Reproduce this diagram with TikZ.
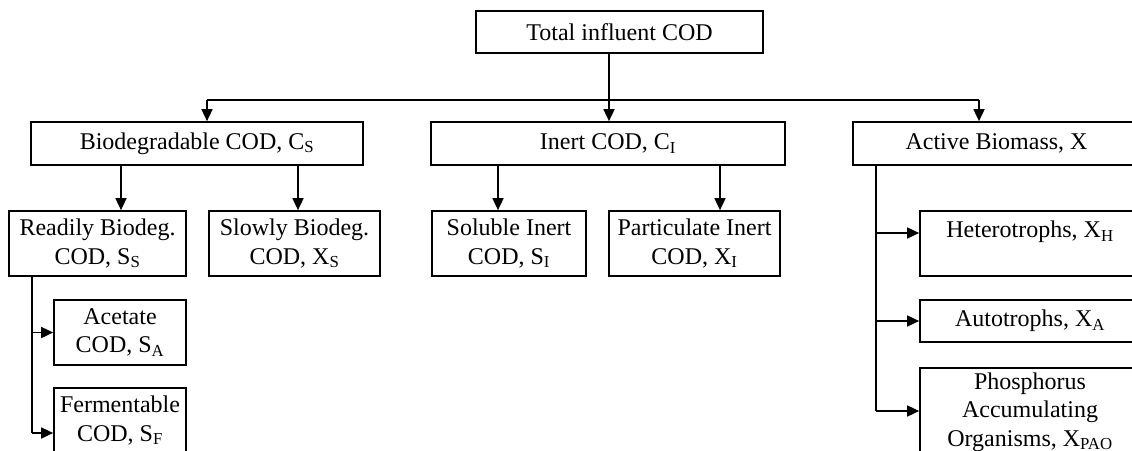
\documentclass[tikz,border=0pt]{standalone}
\usepackage{fontspec}
\setmainfont{Liberation Serif}
\usetikzlibrary{arrows.meta}
\newcommand\sbs[1]{\textsubscript{#1}}
\begin{document}
\begin{tikzpicture}[x=1pt,y=-1pt,
  box/.style={draw, line width=1.7pt, inner sep=0pt, align=center,
    font=\fontsize{24}{28.5}\selectfont},
  arr/.style={line width=1.7pt, -{Triangle[length=12pt,width=11pt]}},
  ln/.style={line width=1.7pt}]
\useasboundingbox (0,0) rectangle (1132,450);
\clip (0,0) rectangle (1132,450);
% level 0
\node[box, minimum width=287pt, minimum height=42pt] (top) at (619.5,32) {Total influent COD};
% level 1
\node[box, minimum width=332pt, minimum height=43pt] (bio) at (197,143.5) {Biodegradable COD, C\sbs{S}};
\node[box, minimum width=354pt, minimum height=43pt] (inert) at (608,143.5) {Inert COD, C\sbs{I}};
\node[box, minimum width=287pt, minimum height=43pt] (active) at (996.5,143.5) {Active Biomass, X};
% level 2
\node[box, minimum width=177pt, minimum height=65pt] (readily) at (97.5,243.5) {Readily Biodeg.\\COD, S\sbs{S}};
\node[box, minimum width=171pt, minimum height=65pt] (slowly) at (294.5,243.5) {Slowly Biodeg.\\COD, X\sbs{S}};
\node[box, minimum width=154pt, minimum height=65pt] (soluble) at (509,243.5) {Soluble Inert\\COD, S\sbs{I}};
\node[box, minimum width=171pt, minimum height=65pt] (partic) at (694.5,243.5) {Particulate Inert\\COD, X\sbs{I}};
\node[box, minimum width=220pt, minimum height=65pt] (hetero) at (1030,243.5) {Heterotrophs, X\sbs{H}\\\mbox{}};
\node[box, minimum width=220pt, minimum height=42pt] (auto) at (1030,321) {Autotrophs, X\sbs{A}};
\node[box, minimum width=220pt, minimum height=88pt] (pao) at (1030,412) {Phosphorus\\Accumulating\\Organisms, X\sbs{PAO}};
% level 3
\node[box, minimum width=132pt, minimum height=65pt] (acetate) at (120,332.5) {Acetate\\COD, S\sbs{A}};
\node[box, minimum width=132pt, minimum height=65pt] (ferm) at (120,420.5) {Fermentable\\COD, S\sbs{F}};
% distribution bus under the total
\coordinate (bus) at (609,100);
\coordinate (busL) at (207,100);
\coordinate (busR) at (979,100);
\draw[ln] (top.south -| bus) -- (bus);
\draw[ln] (busL) -- (busR);
\draw[arr] (busL) -- (busL |- bio.north);
\draw[arr] (bus) -- (bus |- inert.north);
\draw[arr] (busR) -- (busR |- active.north);
% biodegradable split
\coordinate (b1) at (121,0);
\coordinate (b2) at (298,0);
\draw[arr] (bio.south -| b1) -- (readily.north -| b1);
\draw[arr] (bio.south -| b2) -- (slowly.north -| b2);
% inert split
\coordinate (i1) at (498,0);
\coordinate (i2) at (720,0);
\draw[arr] (inert.south -| i1) -- (soluble.north -| i1);
\draw[arr] (inert.south -| i2) -- (partic.north -| i2);
% readily biodegradable branch
\coordinate (rb) at (32,433);
\draw[ln] (readily.south -| rb) -- (rb);
\draw[arr] (rb |- acetate.west) -- (acetate.west);
\draw[arr] (rb) -- (rb -| ferm.west);
% active biomass branch
\coordinate (ab) at (876,411);
\draw[ln] (active.south -| ab) -- (ab);
\draw[arr] (ab |- 0,233) -- (hetero.west |- 0,233);
\draw[arr] (ab |- auto.west) -- (auto.west);
\draw[arr] (ab) -- (ab -| pao.west);
\end{tikzpicture}
\end{document}
